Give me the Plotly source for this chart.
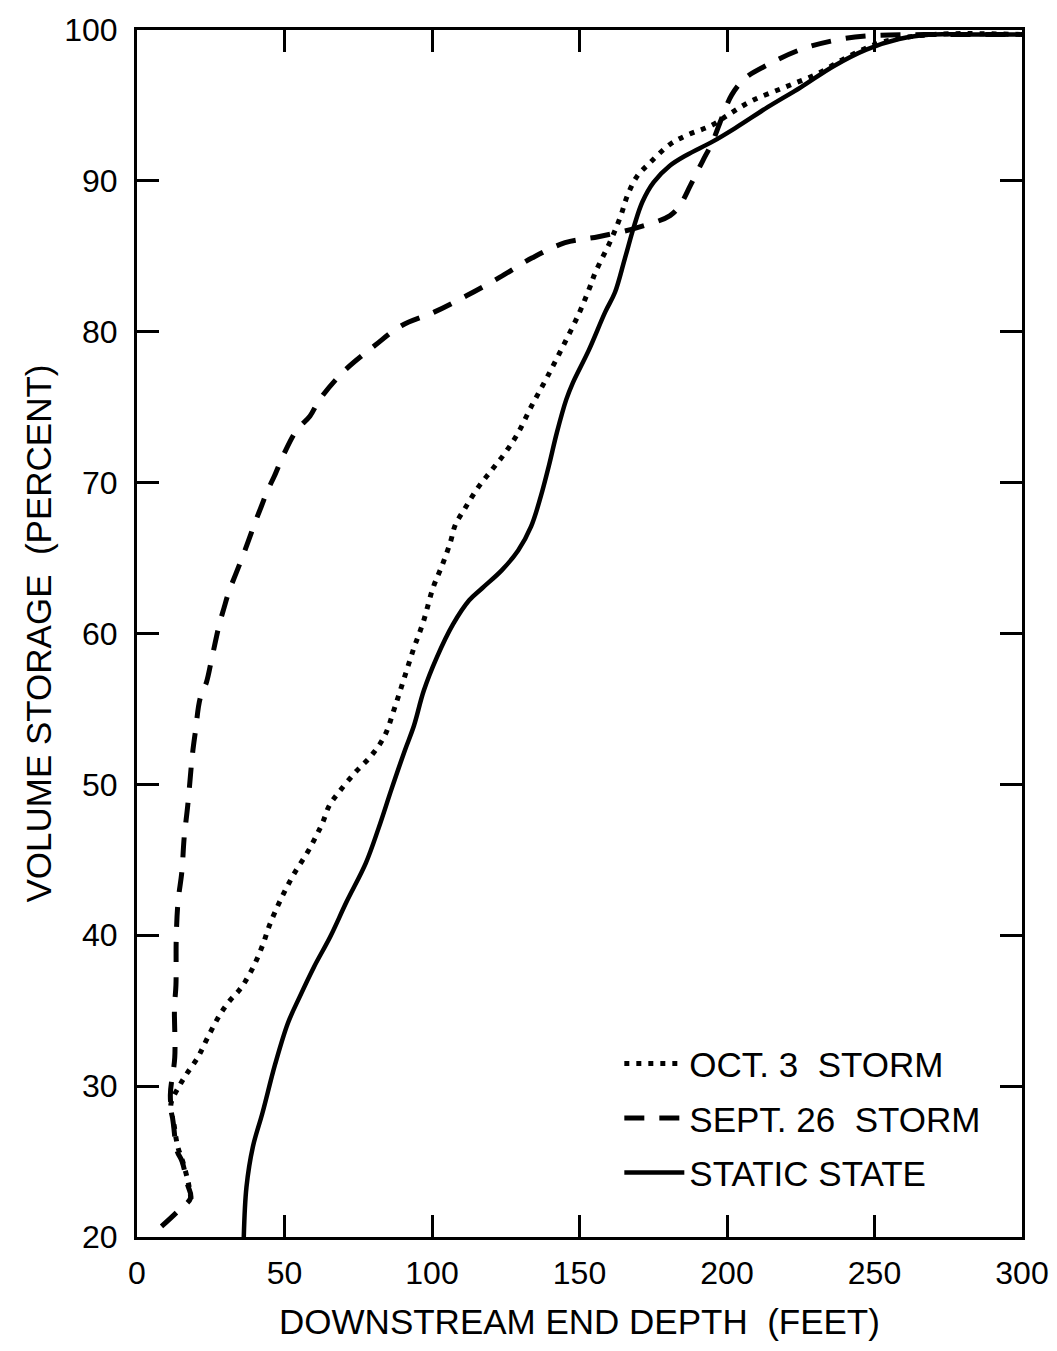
import plotly.graph_objects as go

# ---- data ----
oct3_x = [18.3, 17.5, 15.5, 13.8, 12.5, 11.5, 14.6, 16.8, 20.6, 23.9, 28.3, 31.6, 34.4, 36.6,
          39.9, 42.7, 44.8, 47.6, 50.3, 53.6, 57.5, 60.8, 63.0, 65.2, 68.5, 74.0, 79.4, 83.9,
          87.2, 90.5, 93.8, 97.1, 100.3, 103.6, 106.3, 107.9, 111.2, 115.7, 120.1, 124.5,
          128.9, 133.8, 138.8, 144.3, 149.8, 153.6, 155.3, 160.7, 164.0, 166.2, 169.5, 173.9,
          180.5, 186.1, 195.0, 200.6, 208.3, 219.5, 230.6, 241.7, 252.8, 269.5, 300.0]
oct3_y = [22.5, 23.5, 25.0, 26.0, 27.5, 28.8, 30.1, 30.8, 31.9, 33.2, 34.8, 35.7, 36.3, 36.9,
          38.1, 39.4, 40.6, 41.9, 43.0, 44.2, 45.4, 46.6, 47.5, 48.6, 49.5, 50.8, 51.9, 53.2,
          55.0, 57.0, 59.0, 60.8, 63.0, 64.6, 66.1, 67.2, 68.3, 69.7, 70.8, 71.9,
          73.2, 75.1, 76.9, 79.0, 81.2, 83.0, 83.9, 86.1, 87.7, 89.0, 90.3, 91.2,
          92.4, 93.0, 93.7, 94.4, 95.3, 96.2, 97.1, 98.3, 99.2, 99.7, 99.7]

sept26_x = [8.3, 13.8, 18.2, 17.1, 15.3, 13.6, 12.4, 11.3, 12.8, 12.7, 13.2, 13.3, 13.9, 15.2,
            16.0, 17.2, 18.8, 19.8, 21.4, 23.6, 25.2, 27.9, 29.5, 31.2, 33.4, 35.6, 37.7, 39.9,
            42.1, 44.3, 46.5, 49.8, 54.2, 58.6, 61.9, 69.7, 80.7, 89.6, 100.7, 111.8, 122.9,
            134.0, 145.1, 156.4, 169.6, 180.7, 184.1, 187.6, 191.7, 195.1, 198.3, 201.6, 206.1,
            213.8, 224.9, 236.1, 247.2, 270.0, 300.0]
sept26_y = [20.7, 21.7, 22.6, 23.5, 25.0, 25.7, 27.4, 29.4, 31.9, 35.2, 36.7, 39.8, 42.2, 44.2,
            46.5, 48.6, 52.0, 53.5, 55.7, 56.8, 58.2, 60.6, 61.7, 62.8, 63.9, 65.0, 66.1, 67.3,
            68.4, 69.5, 70.4, 71.9, 73.5, 74.4, 75.5, 77.3, 79.1, 80.4, 81.3, 82.4, 83.6,
            84.9, 85.9, 86.3, 86.9, 87.7, 88.4, 89.7, 91.3, 92.6, 94.2, 95.7, 96.8,
            97.7, 98.7, 99.3, 99.6, 99.7, 99.7]

static_x = [36.2, 37.1, 39.3, 42.5, 46.9, 51.2, 55.1, 60.0, 65.5, 71.0, 77.6, 81.9, 86.3, 90.7,
            93.9, 97.2, 101.6, 107.1, 112.6, 117.0, 123.7, 129.2, 133.6, 136.9, 139.6, 142.3,
            145.5, 147.7, 153.2, 158.7, 162.0, 165.3, 168.5, 171.3, 175.1, 180.6, 186.2, 195.1,
            202.8, 213.9, 225.0, 236.1, 247.2, 258.3, 269.4, 280.5, 300.0]
static_y = [20.0, 23.3, 26.0, 28.2, 31.5, 34.2, 35.9, 37.9, 39.9, 42.2, 44.8, 47.1, 49.7, 52.2,
            53.9, 56.2, 58.4, 60.6, 62.2, 63.0, 64.2, 65.5, 67.1, 69.1, 71.1, 73.3,
            75.5, 76.6, 78.8, 81.3, 82.6, 84.8, 87.0, 88.6, 89.9, 91.0, 91.7, 92.6,
            93.5, 94.9, 96.2, 97.6, 98.7, 99.4, 99.7, 99.7, 99.7]

x_ticks = [0, 50, 100, 150, 200, 250, 300]
y_ticks = [20, 30, 40, 50, 60, 70, 80, 90, 100]

FONT = "Liberation Sans, Arial, Helvetica, sans-serif"

fig = go.Figure()
fig.add_trace(go.Scatter(x=oct3_x, y=oct3_y, mode="lines", name="OCT. 3  STORM",
                         legendgroup="a",
                         line=dict(color="black", width=5, dash="5px,7px", shape="spline", smoothing=1.0)))
fig.add_trace(go.Scatter(x=sept26_x, y=sept26_y, mode="lines", name="SEPT. 26  STORM",
                         legendgroup="b",
                         line=dict(color="black", width=5, dash="20px,15px", shape="spline", smoothing=1.0)))
fig.add_trace(go.Scatter(x=static_x, y=static_y, mode="lines", name="STATIC STATE",
                         legendgroup="c",
                         line=dict(color="black", width=4.5, shape="spline", smoothing=1.0)))

axis_common = dict(showgrid=False, zeroline=False, showline=True, linecolor="black",
                   linewidth=3, mirror="ticks", ticks="inside", tickcolor="black",
                   tickwidth=2.5, ticklen=22, automargin=False,
                   tickfont=dict(family=FONT, size=32, color="black"))

fig.update_xaxes(range=[0, 300], tickvals=x_ticks, ticktext=[str(v) for v in x_ticks],
                 ticklabelstandoff=6, ticklabeloverflow="allow",
                 title=dict(text="DOWNSTREAM END DEPTH  (FEET)", standoff=20,
                            font=dict(family=FONT, size=35, color="black")),
                 **axis_common)
fig.update_yaxes(range=[20, 100], tickvals=y_ticks, ticktext=[str(v) for v in y_ticks],
                 ticklabelstandoff=10,
                 title=dict(text="VOLUME STORAGE  (PERCENT)", standoff=2,
                            font=dict(family=FONT, size=35, color="black")),
                 **axis_common)

# the page body keeps an 8px margin, so the figure is sized to fit inside the window
fig.update_layout(
    width=1041, height=1335,
    margin=dict(l=129, r=27, t=22, b=106, autoexpand=False),
    paper_bgcolor="white", plot_bgcolor="white",
    font=dict(family=FONT, size=34, color="black"),
    showlegend=True,
    legend=dict(x=0.545, y=0.168, xanchor="left", yanchor="top", bgcolor="rgba(0,0,0,0)",
                font=dict(family=FONT, size=35, color="black"), traceorder="grouped",
                tracegroupgap=6, itemwidth=60),
)

fig.write_html("out.html")
